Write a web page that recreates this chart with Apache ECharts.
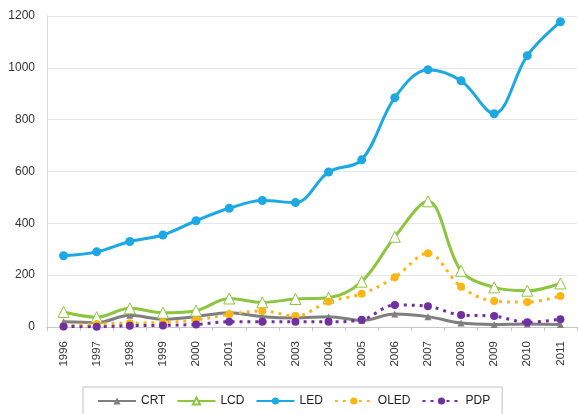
<!DOCTYPE html>
<html><head><meta charset="utf-8">
<script src="https://cdn.jsdelivr.net/npm/echarts@6/dist/echarts.min.js"></script>
<style>html,body{margin:0;padding:0;background:#fff}#c{width:578px;height:414px}</style>
</head><body><div id="c"></div>
<script>
var years = ['1996','1997','1998','1999','2000','2001','2002','2003','2004','2005','2006','2007','2008','2009','2010','2011'];
var crt  = [20, 17, 45, 30, 40, 55, 40, 35, 40, 25, 50, 40, 15, 10, 12, 10];
var lcd  = [58, 38, 72, 55, 63, 110, 95, 108, 113, 175, 348, 485, 217, 153, 140, 168];
var led  = [275, 290, 330, 355, 410, 458, 488, 480, 598, 645, 885, 993, 950, 823, 1047, 1178];
var oled = [3, 12, 14, 18, 27, 49, 62, 42, 98, 128, 192, 285, 155, 100, 96, 120];
var pdp  = [2, 1, 5, 6, 10, 20, 20, 20, 20, 28, 85, 80, 46, 42, 18, 30];
var yTicks = [0, 200, 400, 600, 800, 1000, 1200];

var chart = echarts.init(document.getElementById('c'));
function s(name, data, color, opts) {
  return Object.assign({
    name: name, type: 'line', data: data, smooth: 0.35,
    lineStyle: { color: color, width: 3 },
    itemStyle: { color: color },
    emphasis: { disabled: true }
  }, opts || {});
}
chart.setOption({
  animation: false,
  grid: { left: 47, right: 1, top: 16, bottom: 87 },
  xAxis: {
    type: 'category', data: years, boundaryGap: true,
    axisLine: { lineStyle: { color: '#c8c8c8', width: 1 } },
    axisTick: { show: true, length: 4, lineStyle: { color: '#c8c8c8' } },
    axisLabel: { rotate: 90, margin: 14, fontSize: 11.5, color: '#333', fontFamily: 'Liberation Sans' }
  },
  yAxis: {
    type: 'value', min: yTicks[0], max: yTicks[yTicks.length - 1], interval: 200,
    axisLine: { show: true, lineStyle: { color: '#d8d8d8' } },
    axisTick: { show: false },
    splitLine: { lineStyle: { color: '#e6e6e6' } },
    axisLabel: { fontSize: 12, color: '#333', margin: 12, fontFamily: 'Liberation Sans',
      formatter: function (v) { return String(v); } }
  },
  legend: {
    left: 83, top: 387,
    padding: [8, 12, 8, 14],
    borderColor: '#c0c0c0', borderWidth: 1, borderRadius: 0,
    itemWidth: 38, itemHeight: 9, itemGap: 11,
    textStyle: { fontSize: 12, color: '#222', fontFamily: 'Liberation Sans' },
    data: ['CRT', 'LCD', 'LED', 'OLED', 'PDP']
  },
  series: [
    s('CRT', crt, '#7f7f7f', { symbol: 'triangle', symbolSize: 7 }),
    s('LCD', lcd, '#8cc63e', { symbol: 'triangle', symbolSize: 11, itemStyle: { color: '#fff', borderColor: '#8cc63e', borderWidth: 1 } }),
    s('LED', led, '#1ca8e3', { symbol: 'circle', symbolSize: 9 }),
    s('OLED', oled, '#fbb616', { symbol: 'circle', symbolSize: 8, lineStyle: { color: '#fbb616', width: 3, type: [3, 5] } }),
    s('PDP', pdp, '#7030a0', { symbol: 'circle', symbolSize: 8, lineStyle: { color: '#7030a0', width: 3, type: [3, 5] } })
  ]
});
</script></body></html>
